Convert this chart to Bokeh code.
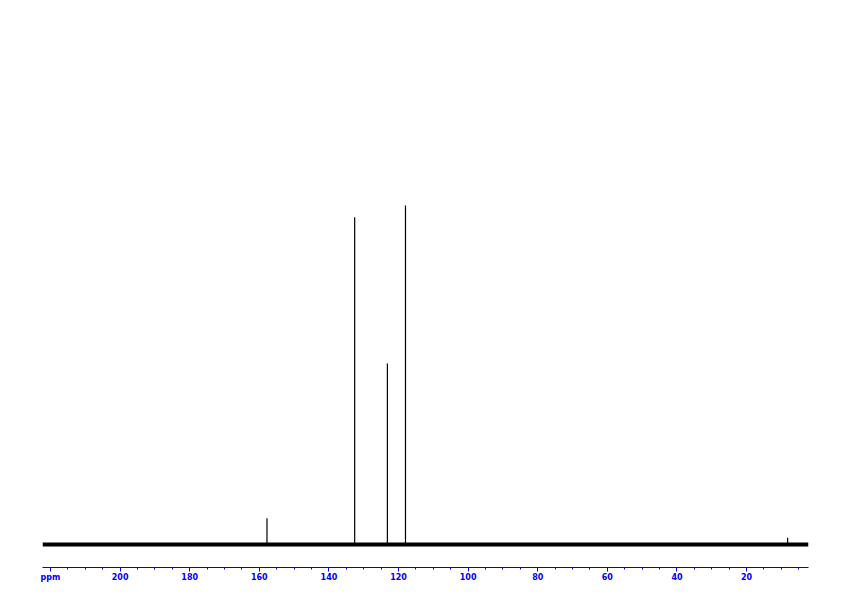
from bokeh.plotting import figure
from bokeh.models import Range1d, FixedTicker
from bokeh.embed import file_html
from bokeh.resources import INLINE

# Data
peak_ppm = [157.8, 132.6, 123.2, 118.0, 8.2]
peak_height = [7.7, 96.5, 53.4, 100.0, 2.0]
spectrum_start_ppm = 222.3
spectrum_end_ppm = 2.2
major_ticks = [220, 200, 180, 160, 140, 120, 100, 80, 60, 40, 20]
minor_ticks = [v for v in range(5, 225, 5)]
tick_labels = {220: "ppm"}

p = figure(width=836, height=590, output_backend="svg", toolbar_location=None,
           x_range=Range1d(spectrum_start_ppm, spectrum_end_ppm),
           y_range=Range1d(-6.8, 158.1),
           min_border_left=42, min_border_right=28, min_border_top=8,
           min_border_bottom=23)
p.outline_line_color = None
p.grid.visible = False
p.yaxis.visible = False

# baseline (noise band)
p.line(x=[spectrum_start_ppm, spectrum_end_ppm], y=[0, 0], line_color="black", line_width=4)
# peaks
p.segment(x0=peak_ppm, y0=[0] * len(peak_ppm), x1=peak_ppm, y1=peak_height,
          line_color="black", line_width=1.2)

ax = p.xaxis[0]
ax.ticker = FixedTicker(ticks=major_ticks, minor_ticks=minor_ticks)
ax.major_label_overrides = tick_labels
blue = "#0000ee"
ax.axis_line_color = blue
ax.axis_line_width = 1
ax.major_tick_line_color = blue
ax.minor_tick_line_color = blue
ax.major_tick_in = 0
ax.major_tick_out = 4
ax.minor_tick_in = 0
ax.minor_tick_out = 2
ax.major_label_text_color = blue
ax.major_label_text_font = "DejaVu Sans"
ax.major_label_text_font_size = "8px"
ax.major_label_text_font_style = "bold"
ax.major_label_standoff = 1

open("out.html", "w").write(file_html(p, INLINE))
